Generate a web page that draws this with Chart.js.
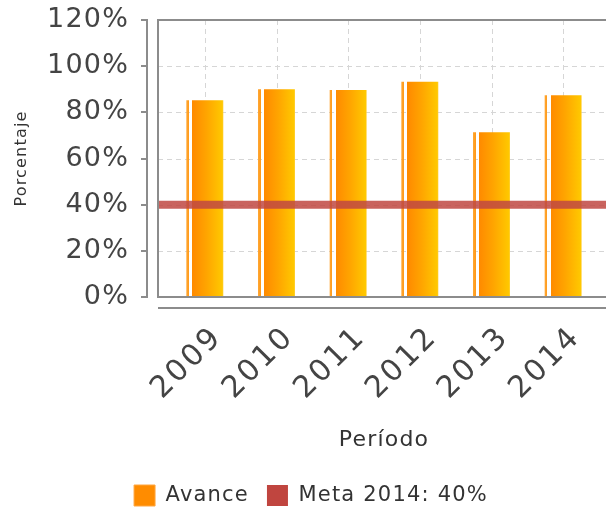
<!DOCTYPE html>
<html>
<head>
<meta charset="utf-8">
<script src="https://cdn.jsdelivr.net/npm/chart.js@4/dist/chart.umd.min.js"></script>
<style>
html, body { margin: 0; padding: 0; overflow: hidden; background: #fff; }
#wrap { width: 622px; height: 516px; position: relative; }
</style>
</head>
<body>
<div id="wrap"><canvas id="c"></canvas></div>
<script>
// ---- data ----
const categories = ['2009', '2010', '2011', '2012', '2013', '2014'];
const avance = [85.2, 90.0, 89.7, 93.3, 71.4, 87.4];
const meta = [40, 40, 40, 40, 40, 40];
const yTickLabels = ['0%', '20%', '40%', '60%', '80%', '100%', '120%'];
const seriesNames = ['Avance', 'Meta 2014: 40%'];
const axisTitles = { x: 'Período', y: 'Porcentaje' };

const FONT = '"DejaVu Sans", sans-serif';
const BAR_PCT = 0.516;
const META_COLOR = 'rgba(192,72,66,0.85)';
const LETTER_SPACING = '1.2px';
const X_LABEL_SPACING = '2.6px';

function barFill(ctx) {
  const chart = ctx.chart;
  const xs = chart.scales.x;
  if (!chart.chartArea || !xs) return '#ff8c00';
  const cx = xs.getPixelForValue(ctx.dataIndex);
  const w = (xs.width / categories.length) * BAR_PCT;
  const g = chart.ctx.createLinearGradient(cx - w / 2, 0, cx + w / 2, 0);
  g.addColorStop(0.0, '#ffa733');
  g.addColorStop(0.07, '#ff9a1a');
  g.addColorStop(0.071, 'rgba(255,255,255,0)');
  g.addColorStop(0.165, 'rgba(255,255,255,0)');
  g.addColorStop(0.166, '#ff8a00');
  g.addColorStop(0.55, '#ffa500');
  g.addColorStop(0.97, '#ffc800');
  g.addColorStop(1.0, '#ffd040');
  return g;
}

function hline(ctx, x1, y, x2) { ctx.beginPath(); ctx.moveTo(x1, y); ctx.lineTo(x2, y); ctx.stroke(); }
function vline(ctx, x, y1, y2) { ctx.beginPath(); ctx.moveTo(x, y1); ctx.lineTo(x, y2); ctx.stroke(); }

const spacingPlugin = {
  id: 'spacing',
  beforeLayout(chart) { chart.ctx.letterSpacing = LETTER_SPACING; },
  afterLayout(chart) {
    const xs = chart.scales.x;
    if (xs && !xs.__spaced) {
      const orig = xs.drawLabels;
      xs.drawLabels = function (ca) {
        const c = this.ctx;
        const prev = c.letterSpacing;
        c.letterSpacing = X_LABEL_SPACING;
        orig.call(this, ca);
        c.letterSpacing = prev;
      };
      xs.__spaced = true;
    }
  },
  beforeDraw(chart) { chart.ctx.letterSpacing = LETTER_SPACING; }
};

const framePlugin = {
  id: 'frame',
  beforeDatasetsDraw(chart) {
    const { ctx, chartArea: a, scales: { x, y } } = chart;
    const L = a.left - 11, R = a.right + 11, T = a.top, B = a.bottom;
    ctx.save();
    ctx.strokeStyle = '#d6d6d6';
    ctx.lineWidth = 1;
    ctx.setLineDash([5, 4]);
    y.ticks.forEach(t => {
      const py = Math.round(y.getPixelForValue(t.value)) + 0.5;
      hline(ctx, L, py, R);
    });
    categories.forEach((c, i) => {
      const px = Math.round(x.getPixelForValue(i)) + 0.5;
      vline(ctx, px, T, B);
    });
    ctx.restore();
  },
  afterDatasetsDraw(chart) {
    const { ctx, chartArea: a, scales: { x, y } } = chart;
    const L = a.left - 11, R = a.right + 11, T = a.top, B = a.bottom;
    ctx.save();
    // meta line
    const metaData = chart.data.datasets[1].data;
    const my = y.getPixelForValue(metaData[0]);
    ctx.strokeStyle = META_COLOR;
    ctx.lineWidth = 8;
    hline(ctx, L, my, R);
    // frame
    ctx.strokeStyle = '#8c8c8c';
    ctx.lineWidth = 2;
    ctx.strokeRect(L, T, R - L, B - T);
    // y axis line + ticks
    const ax = L - 11;
    vline(ctx, ax, T - 1, B + 1);
    y.ticks.forEach(t => {
      const py = Math.round(y.getPixelForValue(t.value));
      hline(ctx, ax - 6, py, ax);
    });
    // x axis line
    hline(ctx, L, B + 11, R + 20);
    ctx.restore();
  }
};

new Chart(document.getElementById('c'), {
  type: 'bar',
  data: {
    labels: categories,
    datasets: [
      {
        label: seriesNames[0],
        data: avance,
        backgroundColor: barFill,
        borderWidth: 0,
        barPercentage: BAR_PCT,
        categoryPercentage: 1.0
      },
      {
        type: 'line',
        label: seriesNames[1],
        data: meta,
        borderColor: META_COLOR,
        backgroundColor: META_COLOR,
        borderWidth: 0,
        pointRadius: 0,
        showLine: false
      }
    ]
  },
  options: {
    responsive: true,
    maintainAspectRatio: false,
    animation: false,
    layout: { padding: { top: 20, left: 23, right: 23, bottom: 0 } },
    plugins: {
      tooltip: { enabled: false },
      legend: {
        position: 'bottom',
        labels: {
          font: { family: FONT, size: 21 },
          color: '#333',
          boxWidth: 21,
          boxHeight: 21,
          padding: 18,
          generateLabels(chart) {
            const items = Chart.defaults.plugins.legend.labels.generateLabels(chart);
            items[0].fillStyle = '#ff8c00';
            items[0].strokeStyle = '#ffa640';
            items[0].lineWidth = 1;
            items[1].fillStyle = '#c0453f';
            items[1].strokeStyle = '#c0453f';
            items[1].lineWidth = 0;
            return items;
          }
        }
      }
    },
    scales: {
      x: {
        grid: { display: false, drawTicks: false },
        border: { display: false },
        ticks: {
          font: { family: FONT, size: 30 },
          color: '#444',
          maxRotation: 45,
          minRotation: 45,
          autoSkip: false,
          padding: 23,
          labelOffset: 13
        },
        title: {
          display: true,
          text: axisTitles.x,
          font: { family: FONT, size: 22 },
          color: '#333',
          padding: { top: 0, bottom: 14 }
        },
        afterFit(s) { s.height = 170; }
      },
      y: {
        min: 0,
        max: 120,
        grid: { display: false, drawTicks: false },
        border: { display: false },
        ticks: {
          stepSize: 20,
          font: { family: FONT, size: 27 },
          color: '#444',
          padding: 40,
          callback: (v, i) => yTickLabels[i]
        },
        title: {
          display: true,
          text: axisTitles.y,
          font: { family: FONT, size: 16 },
          color: '#333',
          padding: { top: -11, bottom: 0 }
        },
        afterFit(s) {
          s.width = 146;
          s.paddingTop = 0;
          s.paddingBottom = 0;
        }
      }
    }
  },
  plugins: [spacingPlugin, framePlugin]
});
</script>
</body>
</html>
